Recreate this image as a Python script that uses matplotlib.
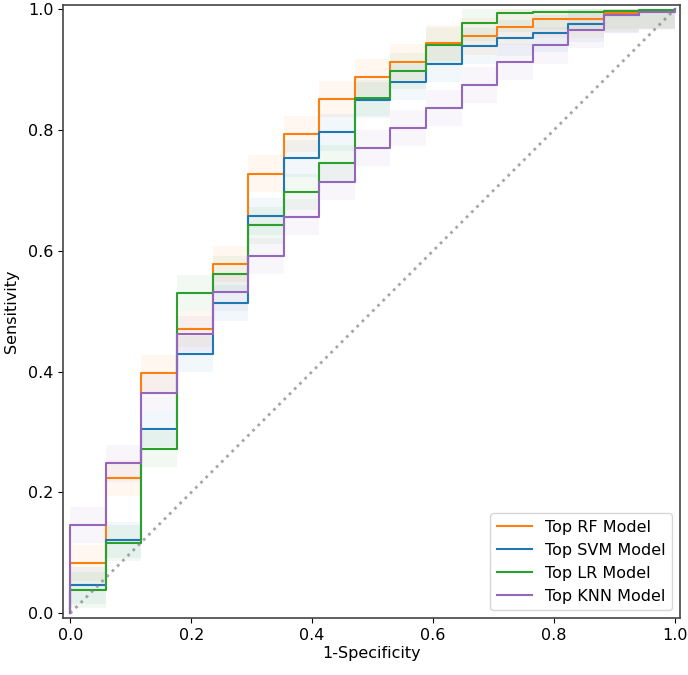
import numpy as np
import matplotlib
matplotlib.use('Agg')
import matplotlib.pyplot as plt

# step levels of the mean ROC curves, one value per 1/17 of 1-specificity
rf_tpr = [0.083, 0.224, 0.397, 0.470, 0.578, 0.728, 0.793, 0.851, 0.887,
          0.912, 0.944, 0.955, 0.970, 0.983, 0.983, 0.993, 0.997]
svm_tpr = [0.046, 0.121, 0.305, 0.429, 0.513, 0.657, 0.753, 0.796, 0.850,
           0.880, 0.909, 0.939, 0.952, 0.960, 0.975, 0.990, 0.997]
lr_tpr = [0.038, 0.116, 0.272, 0.530, 0.561, 0.642, 0.697, 0.745, 0.853,
          0.898, 0.940, 0.978, 0.993, 0.995, 0.996, 0.997, 0.999]
knn_tpr = [0.146, 0.248, 0.364, 0.462, 0.531, 0.591, 0.656, 0.714, 0.770,
           0.803, 0.836, 0.874, 0.912, 0.940, 0.965, 0.990, 0.995]

labels = ['Top RF Model', 'Top SVM Model', 'Top LR Model', 'Top KNN Model']
colors = ['tab:orange', 'tab:blue', 'tab:green', 'tab:purple']
n_neg = 17
band = 0.03

fig = plt.figure(figsize=(6.88, 6.75), dpi=100)
ax = fig.add_axes([0.0916, 0.0844, 0.8964, 0.9082])

fpr = np.concatenate([[0.0], np.arange(n_neg) / n_neg, [1.0]])

for tpr, lab, col in zip([rf_tpr, svm_tpr, lr_tpr, knn_tpr], labels, colors):
    y = np.concatenate([[0.0], tpr, [1.0]])
    ax.fill_between(fpr, np.clip(y - band, 0, 1), np.clip(y + band, 0, 1),
                    step='post', color=col, alpha=0.06, lw=0)
    ax.step(fpr, y, where='post', color=col, lw=1.5, label=lab)

ax.plot([0, 1], [0, 1], ls=':', color='gray', lw=2, alpha=0.7)

ax.set_xlim(-0.012, 1.008)
ax.set_ylim(-0.008, 1.007)
ax.set_xticks([0, 0.2, 0.4, 0.6, 0.8, 1.0])
ax.set_yticks([0, 0.2, 0.4, 0.6, 0.8, 1.0])
ax.tick_params(labelsize=11.5)
ax.set_xlabel('1-Specificity', fontsize=11.5, labelpad=2)
ax.set_ylabel('Sensitivity', fontsize=11.5, labelpad=6)
for s in ax.spines.values():
    s.set_color('#444444')
    s.set_linewidth(1.2)

ax.legend(loc='lower right', fontsize=11.5, handlelength=2.2)

fig.savefig('out.png', dpi=100)
